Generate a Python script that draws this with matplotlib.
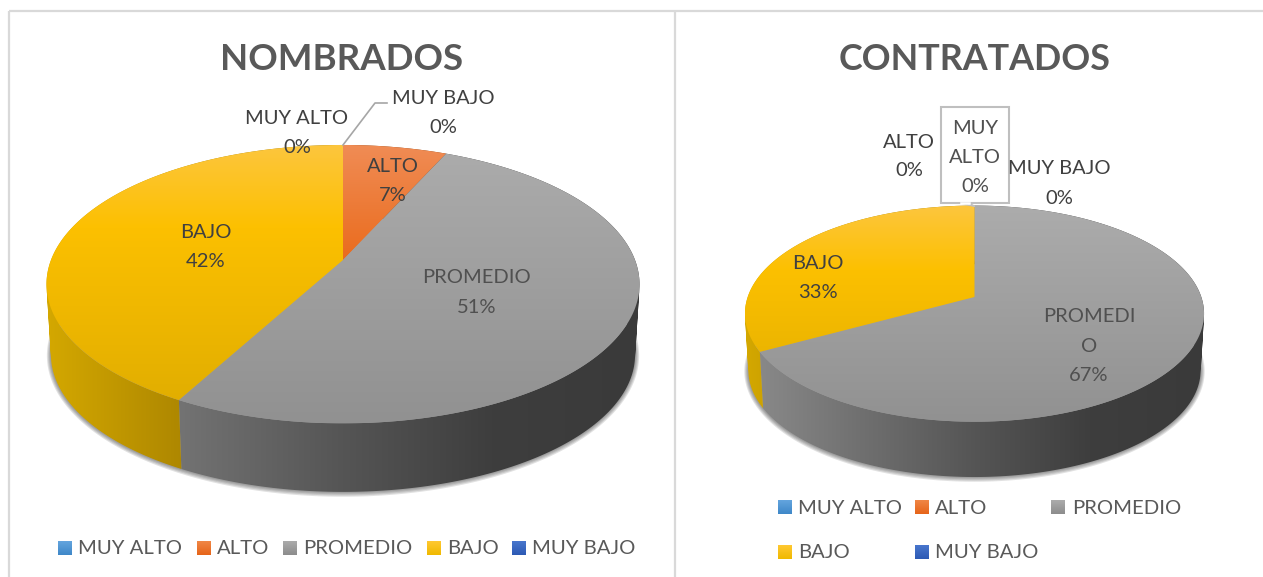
import numpy as np
import matplotlib
matplotlib.use('Agg')
import matplotlib.pyplot as plt
from matplotlib.patches import Polygon, Rectangle, PathPatch
from matplotlib.path import Path

plt.rcParams['font.family'] = ['Lato', 'DejaVu Sans']

categories = ['MUY ALTO', 'ALTO', 'PROMEDIO', 'BAJO', 'MUY BAJO']
nombrados = [0, 6.7, 51.2, 42.1, 0]
contratados = [0, 0, 67, 33, 0]

# gradient stops for the top faces, t=0 back edge of the pie, t=1 front edge
top_stops = {
    'ALTO': ([0, 0.41, 1], [(240, 140, 85), (234, 108, 30), (220, 95, 20)]),
    'PROMEDIO': ([0, 1], [(172, 172, 172), (145, 145, 145)]),
    'BAJO': ([0, 0.3, 1], [(253, 198, 62), (252, 192, 0), (222, 172, 0)]),
}
# side wall shading, u=-1 left end of the pie, u=1 right end
side_stops = {
    'ALTO': ([-1, 1], [(170, 80, 20), (110, 50, 10)]),
    'PROMEDIO': ([-1, -0.5, 0, 0.5, 1], [(140, 140, 140), (112, 112, 112), (85, 85, 85), (62, 62, 62), (58, 58, 58)]),
    'BAJO': ([-1, -0.5, 1], [(212, 168, 0), (170, 132, 0), (120, 90, 0)]),
}
legend_stops = {
    'MUY ALTO': [(100, 165, 222), (62, 135, 200)],
    'ALTO': [(240, 135, 70), (230, 100, 25)],
    'PROMEDIO': [(172, 172, 172), (140, 140, 140)],
    'BAJO': [(255, 200, 50), (240, 185, 0)],
    'MUY BAJO': [(72, 118, 205), (45, 90, 180)],
}

fig = plt.figure(figsize=(12.63, 5.77), dpi=100)
ax = fig.add_axes([0, 0, 1, 1])


def ramp(stops, n=256):
    pos, cols = stops
    t = np.linspace(pos[0], pos[-1], n)
    cols = np.array(cols, dtype=float)
    return np.stack([np.interp(t, pos, cols[:, i]) for i in range(3)], axis=-1) / 255


class Pie3D:
    # perspective disc: apex at (cx, cy), far half shorter than the near half
    def __init__(self, cx, cy, a, b, k, base_cy, shrink):
        self.cx, self.cy, self.a, self.b, self.k = cx, cy, a, b, k
        self.base_cy, self.shrink = base_cy, shrink

    def top(self, theta):
        w = 1 + self.k * np.cos(theta)
        x = self.cx + self.a * np.sin(theta) / w
        y = self.cy - self.b * np.cos(theta) / w
        return np.column_stack([x, y])

    def base(self, theta, grow=0):
        w = 1 + self.k * np.cos(theta)
        s = self.shrink
        x = self.cx + (s * self.a + grow) * np.sin(theta) / w
        y = self.base_cy - (s * self.b + grow) * np.cos(theta) / w
        return np.column_stack([x, y])


def wall_path(upper, lower):
    # one quad per step, all wound the same way, so the sweep has no holes
    verts, codes = [], []
    for i in range(len(upper) - 1):
        quad = np.array([upper[i], upper[i + 1], lower[i + 1], lower[i]])
        x, y = quad[:, 0], quad[:, 1]
        if np.sum(x * np.roll(y, -1) - np.roll(x, -1) * y) < 0:
            quad = quad[::-1]
        verts.extend(quad.tolist())
        verts.append(quad[0].tolist())
        codes.extend([Path.MOVETO, Path.LINETO, Path.LINETO, Path.LINETO, Path.CLOSEPOLY])
    return Path(verts, codes)


def draw_pie(pie, values):
    full = np.linspace(0, 2 * np.pi, 361)
    pts = pie.top(full)
    x0, x1 = pts[:, 0].min(), pts[:, 0].max()
    y0, y1 = pts[:, 1].min(), pts[:, 1].max()
    base_pts = pie.base(full)
    base_bottom = base_pts[:, 1].max()

    # soft shadow round the base
    for grow in [4, 3, 2, 1]:
        ax.add_patch(Polygon(pie.base(full, grow), closed=True, fc='#303030', ec='none', alpha=0.14, zorder=1))

    edges = np.cumsum([0] + values) / sum(values) * 2 * np.pi
    slices = []
    for name, v, t0, t1 in zip(categories, values, edges[:-1], edges[1:]):
        if v > 0:
            slices.append((name, np.linspace(t0, t1, 200)))

    # side walls
    for name, theta in slices:
        img = ramp(side_stops[name])[np.newaxis, :, :]
        lo, hi = side_stops[name][0][0], side_stops[name][0][-1]
        half = (x1 - x0) / 2
        mid = (x0 + x1) / 2
        im = ax.imshow(img, extent=(mid + lo * half, mid + hi * half, base_bottom + 2, y0), aspect='auto', zorder=2)
        im.set_clip_path(PathPatch(wall_path(pie.top(theta), pie.base(theta)), transform=ax.transData))

    # top faces
    for name, theta in slices:
        face = np.vstack([[pie.cx, pie.cy], pie.top(theta)])
        img = ramp(top_stops[name])[:, np.newaxis, :]
        im = ax.imshow(img, extent=(x0, x1, y1, y0), aspect='auto', zorder=3)
        im.set_clip_path(Polygon(face, closed=True, transform=ax.transData))


def pct(v):
    return '%.0f%%' % v


def label(x, ys, lines, color='#404040', size=14.5):
    for y, s in zip(ys, lines):
        ax.text(x, y + 1.5, s, ha='center', va='center', color=color, fontsize=size, zorder=6)


def legend_item(name, sx, ty, tx):
    cols = legend_stops[name]
    img = ramp(([0, 1], cols))[:, np.newaxis, :]
    ax.imshow(img, extent=(sx, sx + 14, ty + 14, ty), aspect='auto', zorder=5)
    ax.text(tx, ty + 8, name, ha='left', va='center', color='#595959', fontsize=14.6, zorder=6)


# panel borders
for xs, ys in [((9, 9), (577, 11)), ((9, 1263), (11, 11)), ((675, 675), (11, 577))]:
    ax.plot(xs, ys, color='#d9d9d9', lw=1.6, zorder=0, solid_capstyle='butt')

draw_pie(Pie3D(343, 260, 292, 135, 0.1736, 331, 0.985), nombrados)
draw_pie(Pie3D(974.5, 297, 226.8, 105.5, 0.154, 354.2, 0.985), contratados)

# titles
ax.text(342, 60, 'NOMBRADOS', ha='center', va='center', color='#595959', fontsize=26.4, fontweight='bold')
ax.text(975, 60, 'CONTRATADOS', ha='center', va='center', color='#595959', fontsize=25.8, fontweight='bold')

# data labels, left chart
ax.plot([343, 375, 387], [145, 103, 103], color='#a6a6a6', lw=1.2, zorder=4)
label(443, [97, 126], [categories[4], pct(nombrados[4])])
label(297, [117, 146], [categories[0], pct(nombrados[0])])
label(393, [165, 194], [categories[1], pct(nombrados[1])])
label(206, [231, 260], [categories[3], pct(nombrados[3])])
label(477, [276, 306], [categories[2], pct(nombrados[2])], color='#505050')

# data labels, right chart
ax.add_patch(Rectangle((941, 107), 68, 96, fc='white', ec='#bfbfbf', lw=1.5, zorder=4))
ax.add_patch(Polygon([(960, 203), (975, 206.5), (969, 203)], closed=True, fc='white', ec='#bfbfbf', lw=1.0, zorder=4))
ax.plot([960.5, 968.5], [203, 203], color='white', lw=1.8, zorder=4.5)
label(909, [141, 169], [categories[1], pct(contratados[1])])
label(975, [127, 156, 185], ['MUY', 'ALTO', pct(contratados[0])], color='#505050')
label(1059.5, [167, 197], [categories[4], pct(contratados[4])])
label(817.5, [262, 291], [categories[3], pct(contratados[3])])
label(1089, [315, 345, 374], ['PROMEDI', 'O', pct(contratados[2])], color='#505050')

# legends
left_squares = [58, 197, 283, 427, 512]
left_texts = [78, 217, 303, 447.5, 532]
for name, sx, tx in zip(categories, left_squares, left_texts):
    legend_item(name, sx, 541, tx)

right_squares = [778, 915, 1051, 778, 915]
right_tops = [500, 500, 500, 545, 545]
right_texts = [798.5, 935, 1072, 798.5, 935]
for name, sx, ty, tx in zip(categories, right_squares, right_tops, right_texts):
    legend_item(name, sx, ty, tx)

ax.set_xlim(0, 1263)
ax.set_ylim(577, 0)
ax.axis('off')
fig.savefig('out.png', dpi=100, facecolor='white')
